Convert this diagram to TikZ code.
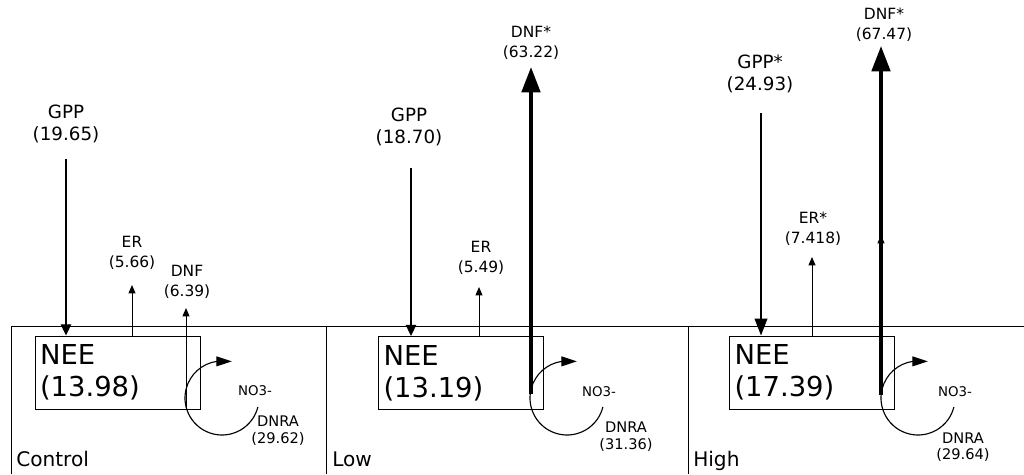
\documentclass[tikz,border=0pt]{standalone}
\usepackage{fontspec}
\setmainfont{DejaVu Sans}
\usetikzlibrary{
    arrows.meta,
    positioning
}

\begin{document}
\begin{tikzpicture}[
    neebox/.style={draw, line width=0.7pt, minimum width=4.125cm,
                   minimum height=1.825cm, text width=3.875cm,
                   inner xsep=0.125cm, inner ysep=0pt, align=left,
                   font=\fontsize{19.5}{22.8}\selectfont},
    biglab/.style={align=center, inner sep=0pt,
                   font=\fontsize{13}{15.6}\selectfont},
    fluxlab/.style={align=center, inner sep=0pt,
                   font=\fontsize{11}{14.2}\selectfont},
    dnralab/.style={align=center, inner sep=0pt,
                   font=\fontsize{10.4}{11.8}\selectfont},
    ionlab/.style={inner sep=0pt, font=\fontsize{9.5}{11}\selectfont},
    tag/.style={anchor=base west, inner sep=0pt,
                font=\fontsize{14.3}{16}\selectfont},
    panel/.style={line width=0.7pt},
    arr/.style={-{Triangle[width=5pt,length=6pt]}, line width=0.7pt},
    garr/.style={-{Triangle[width=7.5pt,length=8pt]}, line width=0.8pt},
    gsarr/.style={-{Triangle[width=9pt,length=12pt]}, line width=1.1pt},
    tarr/.style={-{Triangle[width=13pt,length=18pt]}, line width=2.8pt},
    carr/.style={-{Triangle[width=7pt,length=11pt]}, line width=0.8pt}
]
\useasboundingbox (0,0) rectangle (25.6,11.85);

% panels
\draw[panel] (0.275,0) |- (25.6,3.7);
\draw[panel] (8.15,0) -- (8.15,3.7);
\draw[panel] (17.2,0) -- (17.2,3.7);
\node[tag] (tctl) at (0.4,0.2) {Control};
\node[tag] (tlow) at (8.3,0.2) {Low};
\node[tag] (thigh) at (17.325,0.2) {High};

% control
\node[neebox] (nee1) at (2.9375,2.5375) {NEE\\(13.98)};
\node[biglab] (gpp1) at (1.65,8.75) {GPP\\(19.65)};
\node[fluxlab] (er1) at (3.3,5.525) {ER\\(5.66)};
\node[fluxlab] (dnf1) at (4.675,4.8125) {DNF\\(6.39)};
\node[ionlab] (no1) at (6.375,2.075) {NO3-};
\node[dnralab] (dnra1) at (6.95,1.0875) {DNRA\\(29.62)};
\coordinate (g1) at (1.65,7.875);
\coordinate (e1) at (3.3,4.725);
\coordinate (d1s) at (4.65,1.65);
\coordinate (d1) at (4.65,4.15);
\coordinate (c1) at (5.55,1.9);
\draw[garr] (g1) -- (g1 |- nee1.north);
\draw[arr] (e1 |- nee1.north) -- (e1);
\draw[arr] (d1s) -- (d1);
\draw[carr] ([shift={(-14:0.925)}]c1) arc[start angle=-14, end angle=-262,
    radius=0.925] -- ++(0.375,0);

% low
\node[neebox] (nee2) at (11.525,2.525) {NEE\\(13.19)};
\node[biglab] (gpp2) at (10.225,8.675) {GPP\\(18.70)};
\node[fluxlab] (er2) at (12.025,5.4125) {ER\\(5.49)};
\node[fluxlab] (dnf2) at (13.275,10.775) {DNF*\\(63.22)};
\node[ionlab] (no2) at (14.975,2.05) {NO3-};
\node[dnralab] (dnra2) at (15.65,0.9375) {DNRA\\(31.36)};
\coordinate (g2) at (10.275,7.65);
\coordinate (e2) at (11.975,4.675);
\coordinate (d2s) at (13.275,2.0);
\coordinate (d2) at (13.275,10.175);
\coordinate (c2) at (14.175,1.9);
\draw[garr] (g2) -- (g2 |- nee2.north);
\draw[arr] (e2 |- nee2.north) -- (e2);
\draw[tarr] (d2s) -- (d2);
\draw[carr] ([shift={(-14:0.925)}]c2) arc[start angle=-14, end angle=-262,
    radius=0.925] -- ++(0.375,0);

% high
\node[neebox] (nee3) at (20.3,2.5375) {NEE\\(17.39)};
\node[biglab] (gpp3) at (19.0,10.0125) {GPP*\\(24.93)};
\node[fluxlab] (er3) at (20.325,6.125) {ER*\\(7.418)};
\node[fluxlab] (dnf3) at (22.1,11.2375) {DNF*\\(67.47)};
\node[ionlab] (no3) at (23.875,2.05) {NO3-};
\node[dnralab] (dnra3) at (24.075,0.675) {DNRA\\(29.64)};
\coordinate (g3) at (19.025,9.025);
\coordinate (e3) at (20.3,5.425);
\coordinate (d3s) at (22.025,1.975);
\coordinate (d3) at (22.025,10.7);
\coordinate (d3m) at (22.025,5.975);
\coordinate (c3) at (22.95,1.9);
\draw[gsarr] (g3) -- (g3 |- nee3.north);
\draw[arr] (e3 |- nee3.north) -- (e3);
\draw[tarr] (d3s) -- (d3);
\draw[arr] (d3s) -- (d3m);
\draw[carr] ([shift={(-14:0.925)}]c3) arc[start angle=-14, end angle=-262,
    radius=0.925] -- ++(0.375,0);

\end{tikzpicture}
\end{document}
